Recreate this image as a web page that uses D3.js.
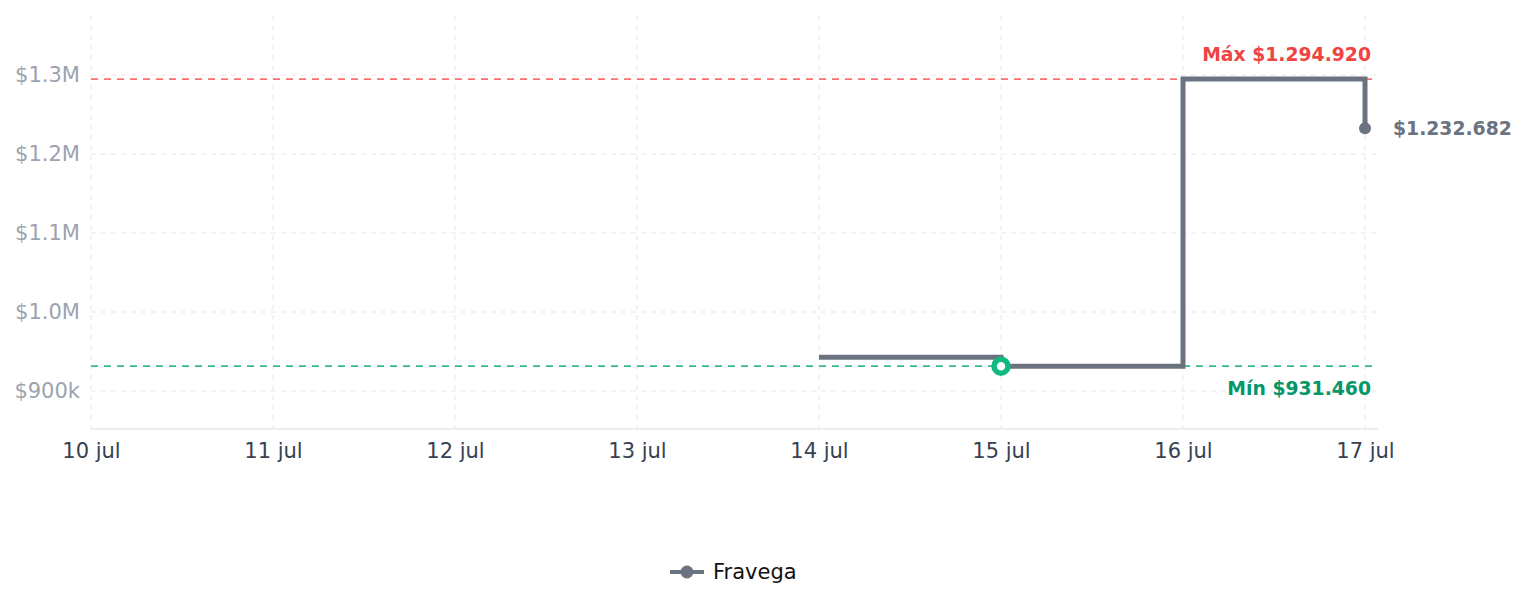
<!DOCTYPE html>
<html>
<head>
<meta charset="utf-8">
<script src="https://cdn.jsdelivr.net/npm/d3@7"></script>
<style>
  body { margin: 0; background: #fff; font-family: "DejaVu Sans", sans-serif; }
</style>
</head>
<body>
<div id="chart"></div>
<script>
// data
const days = ["2024-07-10", "2024-07-11", "2024-07-12", "2024-07-13", "2024-07-14", "2024-07-15", "2024-07-16", "2024-07-17"];
const priceDates = ["2024-07-14", "2024-07-15", "2024-07-16", "2024-07-17"];
const prices = [942800, 931460, 1294920, 1232682];
const yTicks = [900000, 1000000, 1100000, 1200000, 1300000];
const seriesName = "Fravega";
const months = ["ene", "feb", "mar", "abr", "may", "jun", "jul", "ago", "sep", "oct", "nov", "dic"];

const width = 1525, height = 607;
const margin = { top: 15, right: 147, bottom: 178, left: 91 };

const parse = d3.utcParse("%Y-%m-%d");
const points = priceDates.map((d, i) => ({ date: parse(d), value: prices[i] }));
const maxP = d3.max(prices), minP = d3.min(prices);
const minPoint = points.find(p => p.value === minP);
const lastPoint = points[points.length - 1];

const svg = d3.select("#chart").append("svg")
    .attr("width", width)
    .attr("height", height);

const x = d3.scaleUtc()
    .domain([parse(days[0]), parse(days[days.length - 1])])
    .range([margin.left, 1365]);
const plotRight = 1378;

const y = d3.scaleLinear()
    .domain([851900, 1376000])
    .range([height - margin.bottom - 0, margin.top]);
const plotBottom = y(851900);

const fmtTick = v => v >= 1000000 ? `$${(v / 1000000).toFixed(1)}M` : `$${Math.round(v / 1000)}k`;
const fmtMoney = v => "$" + d3.format(",")(v).replace(/,/g, ".");
const fmtDay = d => `${d.getUTCDate()} ${months[d.getUTCMonth()]}`;

// grid
const grid = svg.append("g");
grid.selectAll(".vgrid")
    .data(days.map(parse))
    .join("line")
    .attr("x1", d => x(d)).attr("x2", d => x(d))
    .attr("y1", margin.top).attr("y2", plotBottom)
    .attr("stroke", "#f0f0f0")
    .attr("stroke-width", 1.5)
    .attr("stroke-dasharray", "5,5");
grid.selectAll(".hgrid")
    .data(yTicks)
    .join("line")
    .attr("x1", margin.left).attr("x2", plotRight)
    .attr("y1", d => y(d)).attr("y2", d => y(d))
    .attr("stroke", "#f0f0f0")
    .attr("stroke-width", 1.5)
    .attr("stroke-dasharray", "5,5");

// axes
const yAxis = svg.append("g")
    .attr("transform", `translate(${margin.left},0)`)
    .call(d3.axisLeft(y).tickValues(yTicks).tickFormat(fmtTick).tickSize(0).tickPadding(11));
yAxis.select(".domain").remove();
yAxis.selectAll("text")
    .attr("fill", "#9ca3af")
    .style("font-size", "21px")
    .style("font-family", "DejaVu Sans, sans-serif");

const xAxis = svg.append("g")
    .attr("transform", `translate(0,${plotBottom})`)
    .call(d3.axisBottom(x).tickValues(days.map(parse)).tickFormat(fmtDay).tickSize(0).tickPadding(14));
xAxis.select(".domain")
    .attr("d", `M${margin.left},0H${plotRight}`)
    .attr("stroke", "#e5e7eb")
    .attr("stroke-width", 1.5);
xAxis.selectAll("text")
    .attr("fill", "#374151")
    .style("font-size", "21px")
    .style("font-family", "DejaVu Sans, sans-serif");

// reference lines
svg.append("line")
    .attr("x1", margin.left).attr("x2", plotRight)
    .attr("y1", y(maxP)).attr("y2", y(maxP))
    .attr("stroke", "#f87171")
    .attr("stroke-width", 1.8)
    .attr("stroke-dasharray", "7,6");
svg.append("line")
    .attr("x1", margin.left).attr("x2", plotRight)
    .attr("y1", y(minP)).attr("y2", y(minP))
    .attr("stroke", "#34b98a")
    .attr("stroke-width", 1.8)
    .attr("stroke-dasharray", "7,6");

svg.append("text")
    .attr("x", 1371).attr("y", y(maxP) - 18)
    .attr("text-anchor", "end")
    .attr("fill", "#ef4444")
    .style("font-size", "18.8px")
    .style("font-weight", "bold")
    .text(`Máx ${fmtMoney(maxP)}`);
svg.append("text")
    .attr("x", 1371).attr("y", y(minP) + 29)
    .attr("text-anchor", "end")
    .attr("fill", "#059669")
    .style("font-size", "18.8px")
    .style("font-weight", "bold")
    .text(`Mín ${fmtMoney(minP)}`);

// price line
const line = d3.line()
    .x(d => x(d.date))
    .y(d => y(d.value))
    .curve(d3.curveStepAfter);
svg.append("path")
    .datum(points)
    .attr("d", line)
    .attr("fill", "none")
    .attr("stroke", "#6b7280")
    .attr("stroke-width", 5)
    .attr("stroke-linejoin", "miter");

// min marker
svg.append("circle")
    .attr("cx", x(minPoint.date)).attr("cy", y(minPoint.value))
    .attr("r", 7)
    .attr("fill", "#fff")
    .attr("stroke", "#10b981")
    .attr("stroke-width", 5.5);

// last point marker + label
svg.append("circle")
    .attr("cx", x(lastPoint.date)).attr("cy", y(lastPoint.value))
    .attr("r", 6)
    .attr("fill", "#6b7280");
svg.append("text")
    .attr("x", x(lastPoint.date) + 28).attr("y", y(lastPoint.value))
    .attr("dy", "0.35em")
    .attr("fill", "#6b7280")
    .style("font-size", "18.8px")
    .style("font-weight", "bold")
    .text(fmtMoney(lastPoint.value));

// legend
const legend = svg.append("g").attr("transform", "translate(670,572)");
legend.append("line")
    .attr("x1", 0).attr("x2", 34)
    .attr("stroke", "#6b7280")
    .attr("stroke-width", 4);
legend.append("circle")
    .attr("cx", 17).attr("r", 6.5)
    .attr("fill", "#6b7280");
legend.append("text")
    .attr("x", 43).attr("dy", "0.35em")
    .attr("fill", "#111")
    .style("font-size", "21px")
    .text(seriesName);
</script>
</body>
</html>
